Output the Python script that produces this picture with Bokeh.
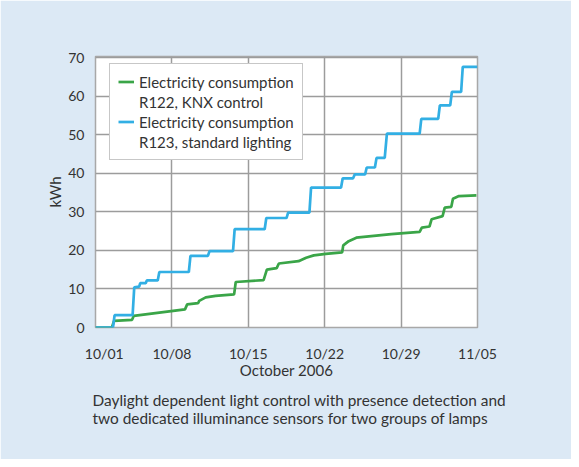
from bokeh.plotting import figure
from bokeh.models import Range1d, FixedTicker, Legend, LegendItem, Title
from bokeh.embed import file_html
from bokeh.resources import INLINE

# ---- data (days since 2006-10-01, kWh) ----
x_ticks = [0, 7, 14, 21, 28, 35]
x_tick_labels = ["10/01", "10/08", "10/15", "10/22", "10/29", "11/05"]
y_ticks = [0, 10, 20, 30, 40, 50, 60, 70]

# R123, standard lighting (blue)
blue_days = [0, 1.6, 1.75, 3.4, 3.55, 4.0, 4.1, 4.6, 4.7, 5.7, 5.85, 8.55, 8.7,
             10.3, 10.45, 12.6, 12.75, 15.5, 15.65, 17.5, 17.65, 19.6, 19.75,
             22.5, 22.65, 23.6, 23.75, 24.7, 24.85, 25.6, 25.75, 26.5, 26.7,
             29.7, 29.85, 31.4, 31.55, 32.5, 32.65, 33.5, 33.65, 35.0]
blue_kwh = [0, 0, 3.2, 3.2, 10.4, 10.6, 11.5, 11.5, 12.2, 12.2, 14.4, 14.4, 18.6,
            18.6, 19.8, 19.8, 25.5, 25.5, 28.4, 28.4, 29.8, 29.8, 36.3,
            36.3, 38.7, 38.7, 39.7, 39.7, 41.5, 41.5, 44.0, 44.0, 50.3,
            50.3, 54.1, 54.1, 57.6, 57.6, 61.1, 61.1, 67.6, 67.6]

# R122, KNX control (green)
green_days = [0, 1.5, 1.7, 3.35, 3.5, 8.2, 8.4, 9.4, 9.5, 10.1, 11.0, 12.7, 12.85,
              15.4, 15.7, 16.6, 16.8, 18.6, 19.3, 20.0, 21.1, 22.6, 22.7, 23.2,
              23.9, 27.1, 29.7, 29.9, 30.6, 30.8, 31.8, 32.0, 32.6, 32.75, 33.3, 34.9]
green_kwh = [0, 0, 1.7, 2.0, 3.0, 4.7, 6.0, 6.3, 6.9, 7.8, 8.2, 8.6, 11.8,
             12.3, 15.0, 15.4, 16.6, 17.2, 18.1, 18.7, 19.1, 19.5, 21.3, 22.4,
             23.3, 24.2, 24.8, 25.9, 26.2, 28.1, 28.9, 31.1, 31.3, 33.4, 34.1, 34.3]

legend_lines = ["Electricity consumption", "R122, KNX control",
                "Electricity consumption", "R123, standard lighting"]
caption_lines = ["Daylight dependent light control with presence detection and",
                 "two dedicated illuminance sensors for two groups of lamps"]

FONT = "Lato"
TXT = "#333333"
BG = "#dce9f5"

p = figure(width=571, height=459, output_backend="svg", toolbar_location=None,
           x_range=Range1d(0, 35), y_range=Range1d(0, 70.3),
           min_border_left=95, min_border_right=94, min_border_top=56,
           min_border_bottom=132)
p.border_fill_color = BG
p.background_fill_color = "white"
p.outline_line_color = "#a8a8a8"
p.outline_line_width = 1.5

# grids
p.xgrid.ticker = FixedTicker(ticks=x_ticks)
p.ygrid.ticker = FixedTicker(ticks=y_ticks)
for g in (p.xgrid, p.ygrid):
    g.grid_line_color = "#9c9c9c"
    g.grid_line_width = 1.5

# axes
first_label_shift = 0.8
axis_ticks = [x_ticks[0] + first_label_shift] + x_ticks[1:]
p.xaxis.ticker = FixedTicker(ticks=axis_ticks)
p.xaxis.major_label_overrides = {t: lab for t, lab in zip(axis_ticks, x_tick_labels)}
p.yaxis.ticker = FixedTicker(ticks=y_ticks)
p.xaxis.axis_label = "October 2006"
p.yaxis.axis_label = "kWh"
for ax in (p.xaxis[0], p.yaxis[0]):
    ax.axis_line_color = None
    ax.major_tick_line_color = None
    ax.minor_tick_line_color = None
    ax.major_label_text_font = FONT
    ax.major_label_text_font_size = "14px"
    ax.major_label_text_color = TXT
    ax.axis_label_text_font = FONT
    ax.axis_label_text_font_size = "15px"
    ax.axis_label_text_font_style = "normal"
    ax.axis_label_text_color = TXT
p.xaxis.major_label_standoff = 11
p.xaxis.axis_label_standoff = -4
p.yaxis.major_label_standoff = 5
p.yaxis.axis_label_standoff = 1

# lines
gr = p.line(green_days, green_kwh, line_color="#3aa548", line_width=2.7)
br = p.line(blue_days, blue_kwh, line_color="#32afe4", line_width=2.7)
blank = p.line(x=[], y=[], line_alpha=0)

legend = Legend(items=[LegendItem(label=legend_lines[0], renderers=[gr]),
                       LegendItem(label=legend_lines[1], renderers=[blank]),
                       LegendItem(label=legend_lines[2], renderers=[br]),
                       LegendItem(label=legend_lines[3], renderers=[blank])],
                location=(14, 167))
legend.padding = 8
legend.spacing = 1
legend.glyph_width = 16
legend.glyph_height = 19
legend.label_height = 19
legend.label_standoff = 5
legend.label_text_font = FONT
legend.label_text_font_size = "15px"
legend.label_text_color = TXT
legend.border_line_color = "#909090"
legend.border_line_width = 1
legend.background_fill_color = "white"
legend.background_fill_alpha = 1
legend.margin = 0
p.add_layout(legend)

caption = Title(text="\n".join(caption_lines), align="left", offset=-3,
                text_font=FONT, text_font_size="15.4px", text_font_style="normal",
                text_color=TXT, standoff=14)
p.add_layout(caption, "below")

open("out.html", "w").write(file_html(p, INLINE))
